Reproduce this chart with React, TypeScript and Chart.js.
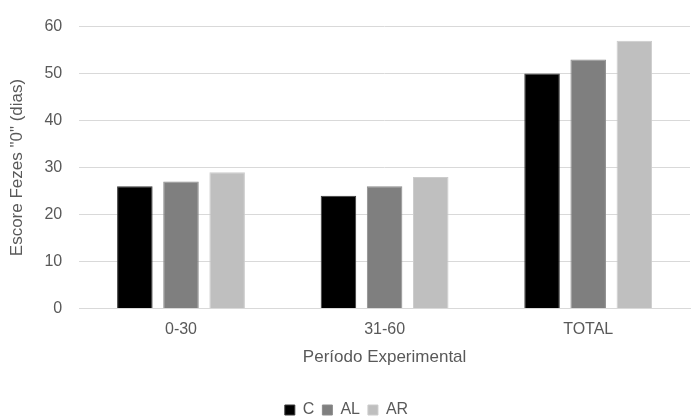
import React, { useEffect, useRef } from "react";
import { Chart, registerables } from "chart.js";

Chart.register(...registerables);

const categories = ["0-30", "31-60", "TOTAL"];
const seriesC = [26, 24, 50];
const seriesAL = [27, 26, 53];
const seriesAR = [29, 28, 57];
const yTicks = [0, 10, 20, 30, 40, 50, 60];

export default function App() {
  const ref = useRef<HTMLCanvasElement>(null);
  useEffect(() => {
    document.body.style.margin = "0";
    const font = "'Liberation Sans', Arial, sans-serif";
    const chart = new Chart(ref.current!, {
      type: "bar",
      data: {
        labels: categories,
        datasets: [
          { label: "C", data: seriesC, backgroundColor: "#000000", borderColor: "#3a3a3a", borderWidth: 1 },
          { label: "AL", data: seriesAL, backgroundColor: "#7f7f7f", borderColor: "#8c8c8c", borderWidth: 1 },
          { label: "AR", data: seriesAR, backgroundColor: "#bfbfbf", borderColor: "#cccccc", borderWidth: 1 },
        ],
      },
      options: {
        animation: false,
        responsive: false,
        devicePixelRatio: 1,
        datasets: { bar: { categoryPercentage: 0.68, barPercentage: 0.77 } },
        layout: { padding: { top: -8, right: 3, left: 3, bottom: 0 } },
        scales: {
          x: {
            grid: { display: false },
            border: { color: "#d9d9d9" },
            ticks: { color: "#595959", font: { family: font, size: 16 }, padding: 4 },
            title: {
              display: true,
              text: "Período Experimental",
              color: "#595959",
              font: { family: font, size: 17 },
              padding: { top: 4, bottom: 26 },
            },
          },
          y: {
            min: 0,
            max: 60,
            afterBuildTicks: (axis: any) => {
              axis.ticks = yTicks.map((v) => ({ value: v }));
            },
            grid: { color: "#d9d9d9", drawTicks: false },
            border: { display: false },
            ticks: { color: "#595959", font: { family: font, size: 16 }, padding: 17 },
            title: {
              display: true,
              text: 'Escore Fezes "0" (dias)',
              color: "#595959",
              font: { family: font, size: 17 },
              padding: { top: 4, bottom: 0 },
            },
          },
        },
        plugins: {
          legend: {
            position: "bottom",
            labels: {
              color: "#595959",
              font: { family: font, size: 16 },
              boxWidth: 10,
              boxHeight: 10,
              padding: 8,
              useBorderRadius: false,
            },
          },
          tooltip: { enabled: false },
        },
      },
      plugins: [
        {
          id: "legendShift",
          beforeInit(c: any) {
            const lg = c.legend;
            const orig = lg.fit.bind(lg);
            lg.fit = function () {
              orig();
              this.height -= 9;
            };
          },
        },
      ],
    });
    return () => chart.destroy();
  }, []);
  return (
    <div style={{ position: "fixed", left: 0, top: 0, width: 693, height: 419, background: "#fff" }}>
      <canvas ref={ref} width={693} height={419} />
    </div>
  );
}
